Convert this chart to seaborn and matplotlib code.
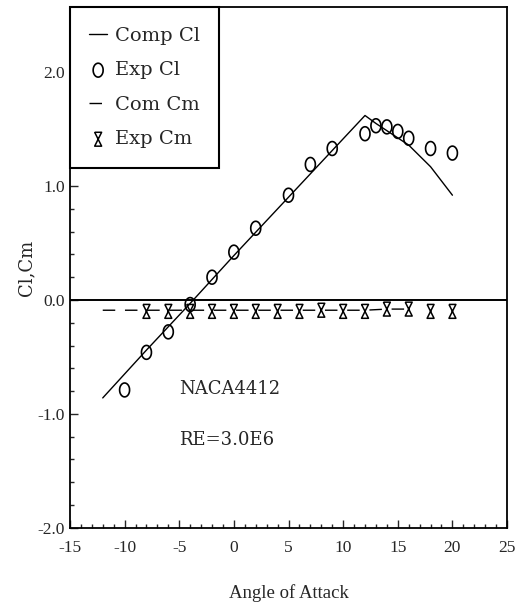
import numpy as np
import pandas as pd
import seaborn as sns
import matplotlib.pyplot as plt
from matplotlib.ticker import MultipleLocator, FormatStrFormatter

# computed lift curve
comp_cl_alpha = [-12, -8, -4, 0, 4, 8, 12, 13, 16, 18, 20]
comp_cl = [-0.86, -0.44, -0.03, 0.39, 0.80, 1.21, 1.62, 1.55, 1.36, 1.17, 0.92]

# experimental lift
exp_cl_alpha = [-10, -8, -6, -4, -2, 0, 2, 5, 7, 9, 12, 13, 14, 15, 16, 18, 20]
exp_cl = [-0.79, -0.46, -0.28, -0.04, 0.20, 0.42, 0.63, 0.92, 1.19, 1.33,
          1.46, 1.53, 1.52, 1.48, 1.42, 1.33, 1.29]

# computed moment
comp_cm_alpha = [-12, -8, -4, 0, 4, 8, 12, 14, 16]
comp_cm = [-0.09, -0.09, -0.09, -0.09, -0.09, -0.09, -0.09, -0.08, -0.08]

# experimental moment
exp_cm_alpha = [-8, -6, -4, -2, 0, 2, 4, 6, 8, 10, 12, 14, 16, 18, 20]
exp_cm = [-0.10, -0.10, -0.10, -0.10, -0.10, -0.10, -0.10, -0.10, -0.09,
          -0.10, -0.10, -0.08, -0.08, -0.10, -0.10]

x_ticks = [-15, -10, -5, 0, 5, 10, 15, 20, 25]
y_ticks = [-2.0, -1.0, 0.0, 1.0, 2.0]

sns.set_style("ticks")
plt.rcParams["font.family"] = ["Liberation Serif", "DejaVu Serif"]
plt.rcParams["axes.unicode_minus"] = False

fig = plt.figure(figsize=(5.26, 6.08), dpi=100)
ax = fig.add_axes([0.133, 0.132, 0.831, 0.856])

# hollow ellipse and hourglass markers, like the scanned original
t = np.linspace(0, 2 * np.pi, 40)
ellipse = list(zip(0.72 * np.cos(t), np.sin(t)))
hourglass = [(-0.5, 1), (0.5, 1), (-0.5, -1), (0.5, -1), (-0.5, 1)]

ax.axhline(0, color="black", lw=1.4, zorder=1)

sns.lineplot(x=comp_cl_alpha, y=comp_cl, color="black", lw=1.0,
             label="Comp Cl", ax=ax, sort=False)
sns.scatterplot(x=exp_cl_alpha, y=exp_cl, marker=ellipse, s=100,
                facecolor="none", edgecolor="black", linewidth=1.2,
                label="Exp Cl", ax=ax, zorder=3)
sns.lineplot(x=comp_cm_alpha, y=comp_cm, color="black", lw=1.0,
             linestyle=(0, (9, 7)), label="Com Cm", ax=ax, sort=False)
sns.scatterplot(x=exp_cm_alpha, y=exp_cm, marker=hourglass, s=100,
                facecolor="none", edgecolor="black", linewidth=1.1,
                label="Exp Cm", ax=ax, zorder=3)

ax.text(-5, -0.78, "NACA4412", fontsize=13, va="center", ha="left",
        family="DejaVu Serif")
ax.text(-5, -1.23, "RE=3.0E6", fontsize=13, va="center", ha="left",
        family="DejaVu Serif")

ax.set_xlim(-15, 25)
ax.set_ylim(-2.0, 2.57)
ax.set_xticks(x_ticks)
ax.set_yticks(y_ticks)
ax.yaxis.set_major_formatter(FormatStrFormatter("%.1f"))
ax.xaxis.set_minor_locator(MultipleLocator(1))
ax.yaxis.set_minor_locator(MultipleLocator(0.2))
ax.tick_params(which="both", direction="in", labelsize=12.5, width=1)
ax.tick_params(axis="x", pad=9)
ax.tick_params(which="major", length=6)
ax.tick_params(which="minor", length=3)
for s in ax.spines.values():
    s.set_linewidth(1.3)
    s.set_color("black")

ax.set_xlabel("Angle of Attack", fontsize=13.5, labelpad=20)
ax.set_ylabel("Cl,Cm", fontsize=13, labelpad=2, family="DejaVu Serif")

leg = ax.legend(loc="upper left", borderaxespad=0, fancybox=False,
                frameon=True, edgecolor="black",
                prop={"family": "DejaVu Serif", "size": 14},
                handlelength=0.9, handletextpad=0.4, labelspacing=0.85,
                borderpad=1.0)
leg.get_frame().set_linewidth(1.5)
leg.get_frame().set_alpha(1)

fig.savefig("out.png", dpi=100)
